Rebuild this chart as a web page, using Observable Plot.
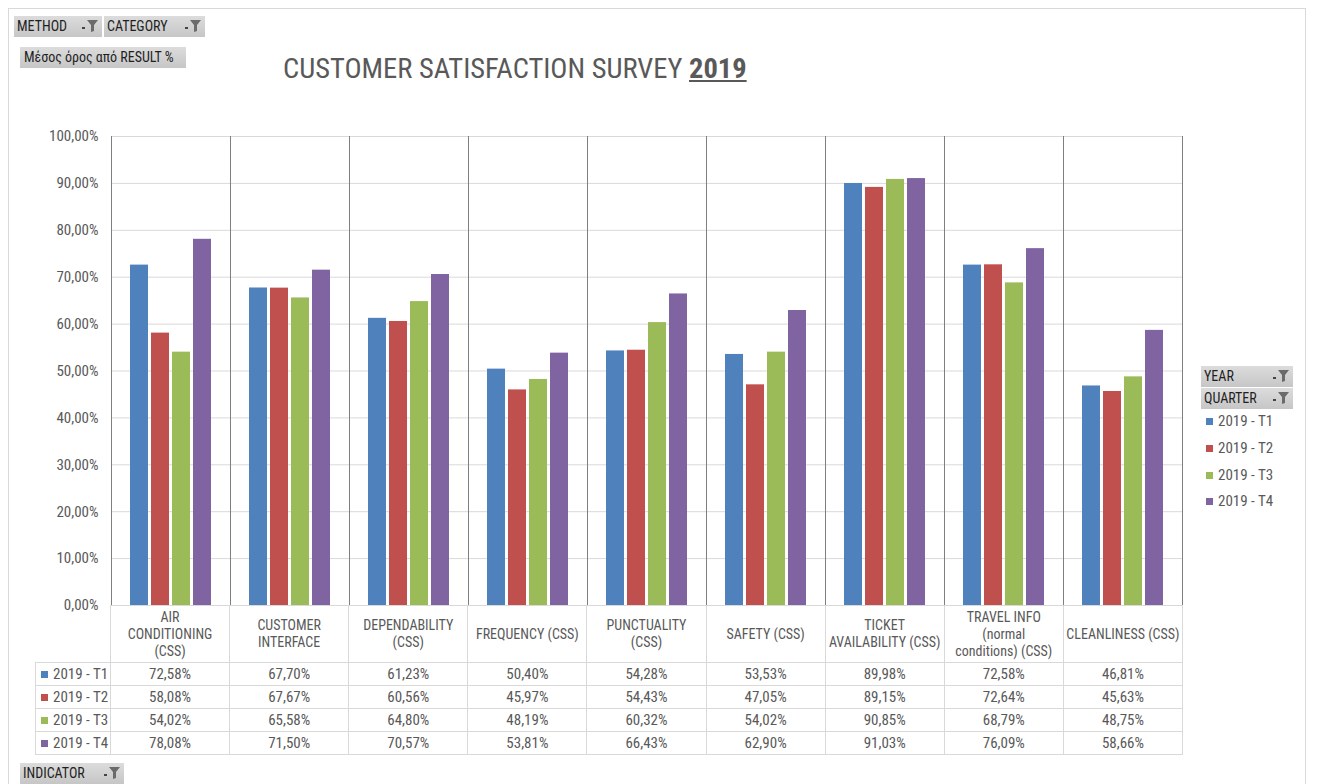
<!DOCTYPE html>
<html>
<head>
<meta charset="utf-8">
<script src="https://cdn.jsdelivr.net/npm/d3@7"></script>
<script src="https://cdn.jsdelivr.net/npm/@observablehq/plot@0.6"></script>
<style>
  html, body { margin: 0; padding: 0; background: #fff; }
  body { width: 1317px; height: 784px; position: relative; overflow: hidden;
         font-family: "Liberation Sans Narrow", "Roboto Condensed", "Liberation Sans", Arial, sans-serif; }
  .frame { position: absolute; left: 8px; top: 8px; width: 1296px; height: 800px; border: 1px solid #d9d9d9; }
  .btn { position: absolute; height: 21px; line-height: 21px; font-size: 14px; color: #1f1f1f;
         background: linear-gradient(#dcdcdc, #c6c6c6); padding-left: 3px; box-sizing: border-box; white-space: nowrap; }
  .btn svg { position: absolute; right: 3px; top: 3px; }
  .title { position: absolute; left: 283px; top: 52px; font-size: 28.5px; color: #595959; white-space: nowrap; }
  .title b { text-decoration: underline; }
  #chart { position: absolute; left: 0; top: 0; }
  table.dt { position: absolute; left: 35px; top: 605px; border-collapse: collapse; table-layout: fixed;
             font-size: 15px; color: #595959; }
  table.dt td { border: 1px solid #d9d9d9; text-align: center; padding: 0; height: 22px; overflow: hidden; }
  table.dt tr.head td { height: 56px; line-height: 17px; white-space: pre-line; font-size: 14px; }
  table.dt tr.head td.blank { border-top: none; border-left: none; }
  table.dt td.key { text-align: left; padding-left: 5px; white-space: nowrap; }
  .sw { display: inline-block; width: 7px; height: 7px; margin-right: 5px; vertical-align: 1px; }
  .legend { position: absolute; left: 1206px; font-size: 15px; color: #595959; white-space: nowrap; }
</style>
</head>
<body>
<div class="frame"></div>
<div id="chart"></div>
<div id="overlay"></div>
<script>
// ---- data ----
const categories = [
  "AIR CONDITIONING (CSS)", "CUSTOMER INTERFACE", "DEPENDABILITY (CSS)", "FREQUENCY (CSS)",
  "PUNCTUALITY (CSS)", "SAFETY (CSS)", "TICKET AVAILABILITY (CSS)",
  "TRAVEL INFO (normal conditions) (CSS)", "CLEANLINESS (CSS)"
];
const categoryLabels = [
  "AIR\nCONDITIONING\n(CSS)", "CUSTOMER\nINTERFACE", "DEPENDABILITY\n(CSS)", "FREQUENCY (CSS)",
  "PUNCTUALITY\n(CSS)", "SAFETY (CSS)", "TICKET\nAVAILABILITY (CSS)",
  "TRAVEL INFO\n(normal\nconditions) (CSS)", "CLEANLINESS (CSS)"
];
const series = ["2019 - T1", "2019 - T2", "2019 - T3", "2019 - T4"];
const t1 = [72.58, 67.70, 61.23, 50.40, 54.28, 53.53, 89.98, 72.58, 46.81];
const t2 = [58.08, 67.67, 60.56, 45.97, 54.43, 47.05, 89.15, 72.64, 45.63];
const t3 = [54.02, 65.58, 64.80, 48.19, 60.32, 54.02, 90.85, 68.79, 48.75];
const t4 = [78.08, 71.50, 70.57, 53.81, 66.43, 62.90, 91.03, 76.09, 58.66];
const seriesColors = ["#4F81BD", "#C0504D", "#9BBB59", "#8064A2"];
const yTicks = [0, 10, 20, 30, 40, 50, 60, 70, 80, 90, 100];
const titleText = "CUSTOMER SATISFACTION SURVEY";
const titleYear = "2019";

// ---- build table ----
const values = [t1, t2, t3, t4];
const data = [];
series.forEach((s, si) => categories.forEach((c, ci) => data.push({category: c, series: s, value: values[si][ci]})));
const fmt = v => v.toFixed(2).replace(".", ",") + "%";

// ---- chart ----
const chart = Plot.plot({
  width: 1317,
  height: 620,
  marginLeft: 110,
  marginRight: 135,
  marginTop: 136,
  marginBottom: 15,
  style: {fontSize: "15px", fontFamily: "'Liberation Sans Narrow','Roboto Condensed','Liberation Sans',sans-serif", color: "#595959", background: "transparent"},
  fx: {domain: categories, padding: 0, axis: null},
  x: {domain: series, paddingInner: 0.12, paddingOuter: 0.83, axis: null},
  y: {domain: [0, 100], axis: null},
  color: {domain: series, range: seriesColors},
  marks: [
    Plot.gridY(yTicks, {stroke: "#d9d9d9", strokeOpacity: 1}),
    Plot.barY(data, {fx: "category", x: "series", y: "value", fill: "series"}),
    Plot.frame({anchor: "left", stroke: "#7f7f7f", strokeOpacity: 1}),
    Plot.frame({anchor: "right", stroke: "#7f7f7f", strokeOpacity: 1}),
    Plot.axisY(yTicks, {tickSize: 0, tickPadding: 13, tickFormat: fmt, label: null, fill: "#595959"})
  ]
});
document.getElementById("chart").appendChild(chart);

// ---- overlay: buttons, title, legend, data table ----
const funnel = `<svg width="18" height="14" viewBox="0 0 18 14"><rect x="1" y="8" width="3" height="2" fill="#444"/><path d="M6 1 H17 L13 6 V12 L10 13 V6 Z" fill="#6b6b6b"/></svg>`;
const ov = document.getElementById("overlay");
function btn(text, left, top, width) {
  const d = document.createElement("div");
  d.className = "btn";
  d.style.left = left + "px"; d.style.top = top + "px"; d.style.width = width + "px";
  d.innerHTML = text + funnel;
  ov.appendChild(d);
  return d;
}
btn("METHOD", 14, 16, 88);
btn("CATEGORY", 104, 16, 101);
const m = btn("Μέσος όρος από RESULT %", 20, 47, 166); m.querySelector("svg").remove(); m.style.paddingLeft = "4px";
btn("YEAR", 1201, 366, 92);
btn("QUARTER", 1201, 388, 92);
btn("INDICATOR", 20, 763, 104);

const title = document.createElement("div");
title.className = "title";
title.innerHTML = `${titleText} <b>${titleYear}</b>`;
ov.appendChild(title);

series.forEach((s, i) => {
  const d = document.createElement("div");
  d.className = "legend";
  d.style.top = (412 + i * 26.8) + "px";
  d.innerHTML = `<span class="sw" style="background:${seriesColors[i]}"></span>${s}`;
  ov.appendChild(d);
});

const colW = 1072 / categories.length;
let html = `<table class="dt"><colgroup><col style="width:75px">` +
  categories.map(() => `<col style="width:${colW}px">`).join("") + `</colgroup>`;
html += `<tr class="head"><td class="blank"></td>` + categoryLabels.map(l => `<td>${l}</td>`).join("") + `</tr>`;
series.forEach((s, si) => {
  html += `<tr><td class="key"><span class="sw" style="background:${seriesColors[si]}"></span>${s}</td>` +
    values[si].map(v => `<td>${fmt(v)}</td>`).join("") + `</tr>`;
});
html += `</table>`;
ov.insertAdjacentHTML("beforeend", html);
</script>
</body>
</html>
